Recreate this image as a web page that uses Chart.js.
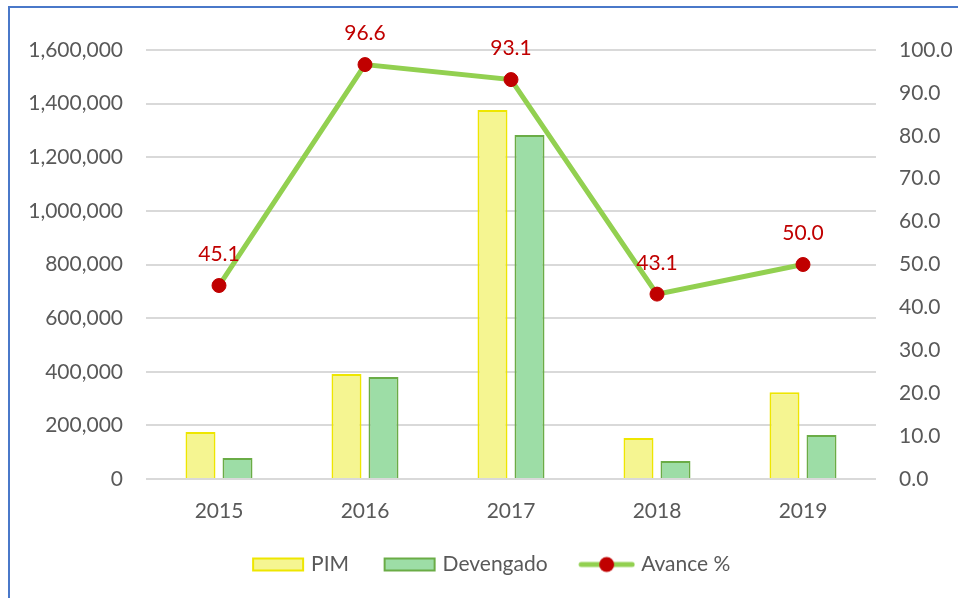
<!DOCTYPE html>
<html><head><meta charset="utf-8">
<script src="https://cdn.jsdelivr.net/npm/chart.js@4/dist/chart.umd.min.js"></script>
<style>html,body{margin:0;padding:0;background:#fff;}#wrap{width:958px;height:598px;position:relative;}</style>
</head><body>
<div id="wrap"><canvas id="c" width="958" height="598"></canvas></div>
<script>
const categories = ['2015','2016','2017','2018','2019'];
const pim = [175000, 392000, 1376000, 153000, 324000];
const devengado = [78000, 380000, 1283000, 67000, 164000];
const avance = [45.1, 96.6, 93.1, 43.1, 50.0];
const seriesNames = ['PIM','Devengado','Avance %'];

const FONT = 'Lato';
const TXT = '#595959';
const PIM_FILL = '#F5F591', PIM_BORDER = '#EEE600';
const DEV_FILL = '#9DDDA6', DEV_BORDER = '#6AAC46';
const LINE_C = '#92D050', PT_C = '#C00000';

const PSW = 73;           // legend symbol slot width
const IW = PSW + 9;       // icon canvas width (symbol drawn at its right end)
function mk(w,h,fn){const c=document.createElement('canvas');c.width=w;c.height=h;fn(c.getContext('2d'));return c;}
const iconPim = mk(IW,16,g=>{const x0=IW-53;g.fillStyle=PIM_FILL;g.fillRect(x0,1,52,14);g.strokeStyle=PIM_BORDER;g.lineWidth=2;g.strokeRect(x0+1,2,50,12);});
const iconDev = mk(IW,16,g=>{const x0=IW-53;g.fillStyle=DEV_FILL;g.fillRect(x0,1,52,14);g.strokeStyle=DEV_BORDER;g.lineWidth=2;g.strokeRect(x0+1,2,50,12);});
const iconLine = mk(IW,18,g=>{const x0=IW-57;g.strokeStyle=LINE_C;g.lineWidth=5;g.lineCap='round';g.beginPath();g.moveTo(x0+3,9);g.lineTo(x0+54,9);g.stroke();g.fillStyle=PT_C;g.beginPath();g.arc(x0+28.5,9,7.5,0,Math.PI*2);g.fill();});

const framePlugin = {id:'frame',beforeDraw(chart){const g=chart.ctx;g.save();g.strokeStyle='#4A78C9';g.lineWidth=2;g.beginPath();g.moveTo(9,598);g.lineTo(9,7);g.lineTo(958,7);g.stroke();g.restore();}};
const labelPlugin = {id:'dl',afterDatasetsDraw(chart){const meta=chart.getDatasetMeta(2);const g=chart.ctx;g.save();g.fillStyle=PT_C;g.font='21px '+FONT;g.textAlign='center';g.textBaseline='middle';meta.data.forEach((p,i)=>{g.fillText(avance[i].toFixed(1),p.x,p.y-31);});g.restore();}};

new Chart(document.getElementById('c'),{
  data:{labels:categories,datasets:[
    {type:'bar',label:seriesNames[0],data:pim,backgroundColor:PIM_FILL,borderColor:PIM_BORDER,borderWidth:2,categoryPercentage:0.507,barPercentage:0.81,yAxisID:'y',order:1},
    {type:'bar',label:seriesNames[1],data:devengado,backgroundColor:DEV_FILL,borderColor:DEV_BORDER,borderWidth:2,categoryPercentage:0.507,barPercentage:0.81,yAxisID:'y',order:1},
    {type:'line',label:seriesNames[2],data:avance,borderColor:LINE_C,borderWidth:5,pointBackgroundColor:PT_C,pointBorderColor:PT_C,pointRadius:7,pointBorderWidth:1,yAxisID:'y1',order:0,tension:0}
  ]},
  options:{
    responsive:false,animation:false,
    layout:{padding:{top:50,bottom:13,left:0,right:0}},
    plugins:{
      tooltip:{enabled:false},
      legend:{position:'bottom',labels:{usePointStyle:true,pointStyleWidth:PSW,padding:10,color:TXT,font:{family:FONT,size:21},
        generateLabels(){return [
          {text:seriesNames[0],pointStyle:iconPim,datasetIndex:0,fontColor:TXT,lineWidth:0},
          {text:seriesNames[1],pointStyle:iconDev,datasetIndex:1,fontColor:TXT,lineWidth:0},
          {text:seriesNames[2],pointStyle:iconLine,datasetIndex:2,fontColor:TXT,lineWidth:0}];}}}
    },
    scales:{
      x:{grid:{display:false},border:{display:false},ticks:{color:TXT,padding:12,font:{family:FONT,size:21}},afterFit(s){s.height=65;}},
      y:{position:'left',min:0,max:1600000,grid:{color:'#D9D9D9',lineWidth:2,drawTicks:false},border:{display:false},
        ticks:{stepSize:200000,padding:23,color:TXT,font:{family:FONT,size:21},callback:v=>v.toLocaleString('en-US')},afterFit(s){s.width=146;}},
      y1:{position:'right',min:0,max:100,grid:{display:false,drawTicks:false},border:{display:false},
        ticks:{stepSize:10,padding:23,color:TXT,font:{family:FONT,size:21},callback:v=>Number(v).toFixed(1)},afterFit(s){s.width=82;}}
    }
  },
  plugins:[framePlugin,labelPlugin]
});
</script>
</body></html>
